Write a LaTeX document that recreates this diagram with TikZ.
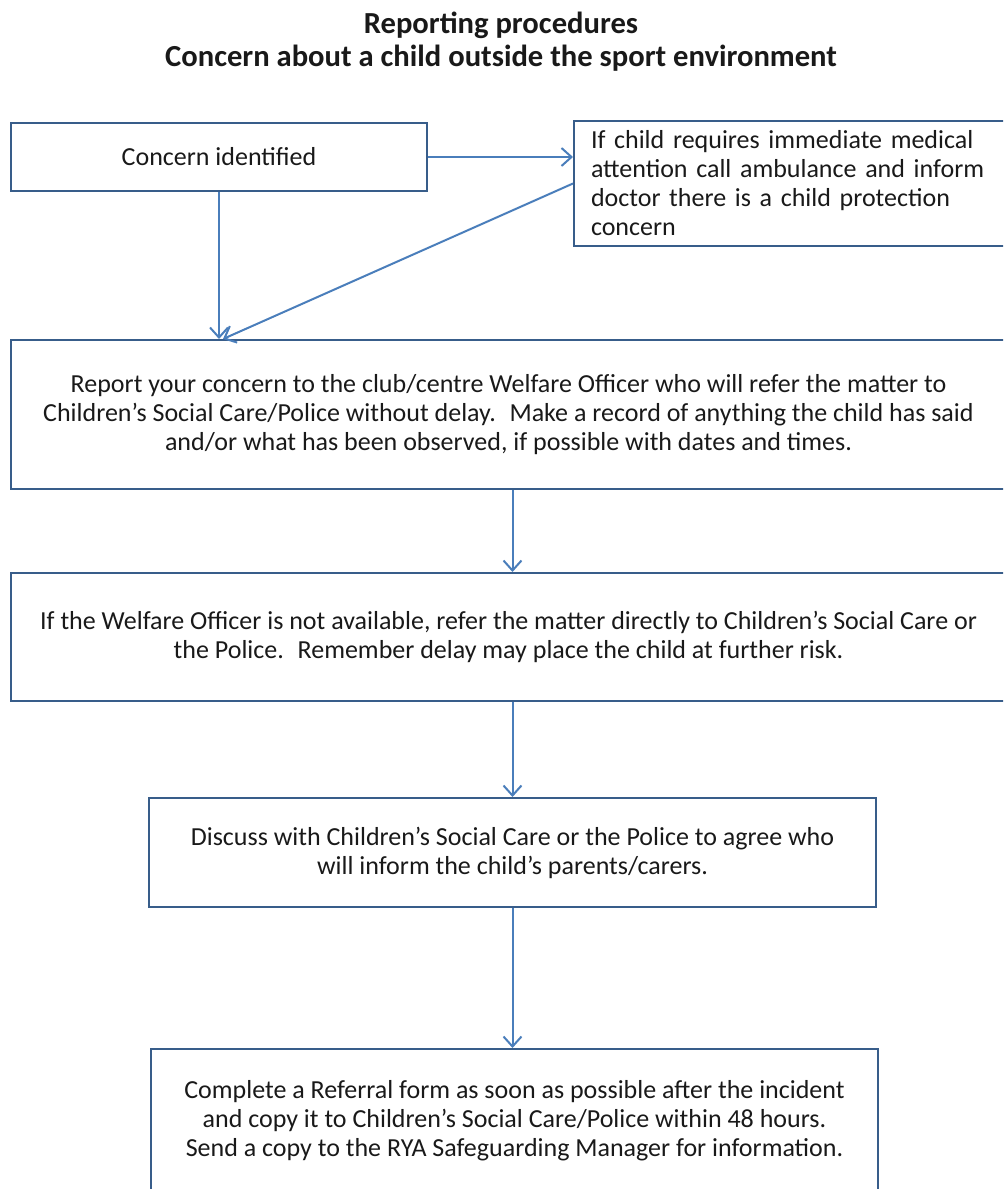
\documentclass[tikz,border=0pt]{standalone}
\usepackage{fontspec}
\setmainfont{Carlito}
\usetikzlibrary{arrows.meta}
\definecolor{boxline}{RGB}{56,93,138}
\definecolor{flowblue}{RGB}{74,126,187}
\definecolor{inktext}{RGB}{25,25,25}
\begin{document}
\begin{tikzpicture}[
        x=0.5pt, y=-0.5pt,
        box/.style={rectangle, draw=boxline, line width=1pt, inner sep=0pt,
                    align=center, text=inktext,
                    font=\fontsize{13}{14.5}\selectfont},
        flow/.style={draw=flowblue, line width=1pt,
                     -{Straight Barb[length=5pt,width=9pt]}}
    ]
        \clip (0,0) rectangle (1003,1189);

        \node[align=center, text=inktext, font=\fontsize{15.3}{16.5}\selectfont\bfseries]
            (title) at (501,42) {Reporting procedures\\Concern about a child outside the sport environment};

        \node[box, anchor=north west, minimum width=208pt, minimum height=34pt]
            (concern) at (10,122) {Concern identified};
        \node[box, anchor=north west, minimum width=216pt, minimum height=62.5pt,
              align=left, text width=199pt, inner xsep=8.5pt]
            (medical) at (573,120) {If child requires immediate medical\\attention call ambulance and inform\\doctor there is a child protection\\concern};
        \node[box, anchor=north west, minimum width=497.5pt, minimum height=74.5pt]
            (report) at (10,339) {Report your concern to the club/centre Welfare Officer who will refer the matter to\\Children’s Social Care/Police without delay.~ Make a record of anything the child has said\\and/or what has been observed, if possible with dates and times.};
        \node[box, anchor=north west, minimum width=497.5pt, minimum height=64pt]
            (direct) at (10,572) {If the Welfare Officer is not available, refer the matter directly to Children’s Social Care or\\the Police.~ Remember delay may place the child at further risk.};
        \node[box, anchor=north west, minimum width=363.5pt, minimum height=54.5pt]
            (discuss) at (148,797) {Discuss with Children’s Social Care or the Police to agree who\\will inform the child’s parents/carers.};
        \node[box, anchor=north west, minimum width=363.5pt, minimum height=72pt]
            (referral) at (150,1048) {Complete a Referral form as soon as possible after the incident\\and copy it to Children’s Social Care/Police within 48 hours.\\Send a copy to the RYA Safeguarding Manager for information.};

        \draw[flow] (concern.east) -- (medical.west |- concern.east);
        \draw[flow] (concern.south) -- (concern.south |- report.north);
        \draw[flow] (medical.west) -- ([xshift=2pt]concern.south |- report.north);
        \draw[flow] (discuss |- report.south) -- (discuss |- direct.north);
        \draw[flow] (discuss |- direct.south) -- (discuss.north);
        \draw[flow] (discuss.south) -- (discuss.south |- referral.north);
    \end{tikzpicture}
\end{document}
